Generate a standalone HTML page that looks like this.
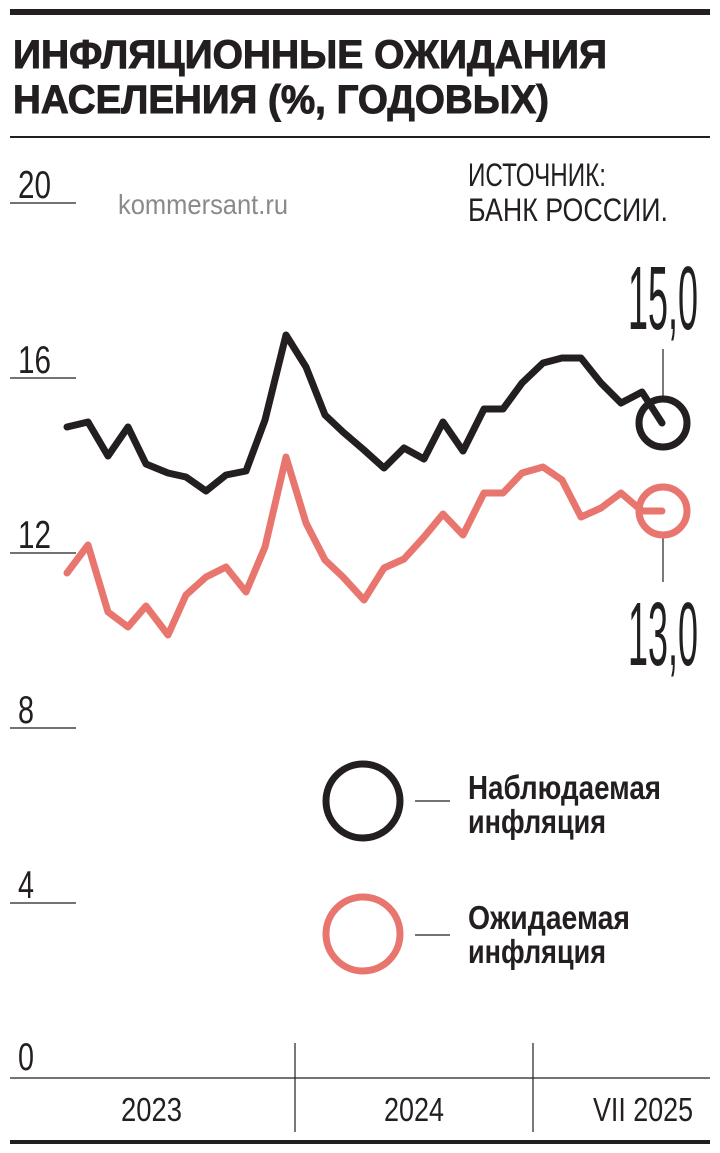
<!DOCTYPE html>
<html><head><meta charset="utf-8"><style>
html,body{margin:0;padding:0;background:#fff;}
svg{display:block;font-family:"Liberation Sans","DejaVu Sans",sans-serif;}
</style></head><body>
<svg width="720" height="1153" viewBox="0 0 720 1153" xmlns="http://www.w3.org/2000/svg">
<rect x="10" y="9" width="700" height="6" fill="#231f20"/>
<g font-size="40" font-weight="bold" fill="#231f20" stroke="#231f20" stroke-width="1">
<text x="13" y="68" textLength="594" lengthAdjust="spacingAndGlyphs">ИНФЛЯЦИОННЫЕ ОЖИДАНИЯ</text>
<text x="13" y="113" textLength="536" lengthAdjust="spacingAndGlyphs">НАСЕЛЕНИЯ (%, ГОДОВЫХ)</text>
</g>
<rect x="10" y="136" width="700" height="2" fill="#231f20"/>
<g stroke="#231f20" stroke-width="1.2">
<line x1="10" y1="203" x2="76" y2="203"/><line x1="10" y1="378" x2="76" y2="378"/>
<line x1="10" y1="553" x2="76" y2="553"/><line x1="10" y1="728" x2="76" y2="728"/>
<line x1="10" y1="903" x2="76" y2="903"/><line x1="10" y1="1078" x2="710" y2="1078"/>
<line x1="295" y1="1043" x2="295" y2="1132"/><line x1="533" y1="1043" x2="533" y2="1132"/>
<line x1="663" y1="349" x2="663" y2="398"/><line x1="663" y1="533" x2="663" y2="582"/>
<line x1="415" y1="801" x2="450" y2="801"/><line x1="415" y1="935" x2="450" y2="935"/>
</g>
<rect x="10" y="1140" width="700" height="4" fill="#231f20"/>
<g font-size="39" fill="#231f20">
<text x="18" y="198" textLength="33" lengthAdjust="spacingAndGlyphs">20</text>
<text x="18" y="373" textLength="33" lengthAdjust="spacingAndGlyphs">16</text>
<text x="18" y="548" textLength="33" lengthAdjust="spacingAndGlyphs">12</text>
<text x="18" y="723" textLength="16" lengthAdjust="spacingAndGlyphs">8</text>
<text x="18" y="898" textLength="16" lengthAdjust="spacingAndGlyphs">4</text>
<text x="18" y="1070" textLength="16" lengthAdjust="spacingAndGlyphs">0</text>
</g>
<text x="118" y="214" font-size="28" fill="#8a8a8a" textLength="170" lengthAdjust="spacingAndGlyphs">kommersant.ru</text>
<text x="468" y="186" font-size="32" fill="#231f20" textLength="138" lengthAdjust="spacingAndGlyphs">ИСТОЧНИК:</text>
<text x="468" y="221" font-size="32" fill="#231f20" textLength="200" lengthAdjust="spacingAndGlyphs">БАНК РОССИИ.</text>
<text x="628" y="329" font-size="90" fill="#231f20" textLength="70" lengthAdjust="spacingAndGlyphs">15,0</text>
<text x="628" y="665" font-size="90" fill="#231f20" textLength="70" lengthAdjust="spacingAndGlyphs">13,0</text>
<polyline fill="none" stroke="#231f20" stroke-width="7" stroke-linejoin="round" stroke-linecap="round" points="67,427 88,422 108,456 128,427 146,464 168,473 186,477 206,491 226,475 246,471 265,420 286,335 306,367 325,415 343,432 364,450 384,468 404,448 424,459 443,422 463,451 484,409 503,409 522,383 543,363 562,358 581,358 601,383 621,403 642,392 662,423"/>
<polyline fill="none" stroke="#e8766f" stroke-width="7" stroke-linejoin="round" stroke-linecap="round" points="67,573 88,545 108,612 128,627 146,606 168,635 186,595 206,577 226,567 246,592 265,547 286,457 306,523 325,560 343,577 364,600 384,568 404,559 424,537 443,514 463,535 484,493 503,493 522,473 543,467 562,480 581,517 601,508 621,493 642,511 662,511"/>
<circle cx="663" cy="423" r="24" fill="none" stroke="#231f20" stroke-width="7"/>
<circle cx="663" cy="511" r="24" fill="none" stroke="#e8766f" stroke-width="7"/>
<circle cx="363" cy="801" r="37" fill="none" stroke="#231f20" stroke-width="7"/>
<circle cx="363" cy="934" r="37" fill="none" stroke="#e8766f" stroke-width="7"/>
<g font-size="33" font-weight="bold" fill="#231f20">
<text x="468" y="799" textLength="193" lengthAdjust="spacingAndGlyphs">Наблюдаемая</text>
<text x="468" y="833" textLength="138" lengthAdjust="spacingAndGlyphs">инфляция</text>
<text x="468" y="929" textLength="162" lengthAdjust="spacingAndGlyphs">Ожидаемая</text>
<text x="468" y="963" textLength="138" lengthAdjust="spacingAndGlyphs">инфляция</text>
</g>
<g font-size="33" fill="#231f20">
<text x="121" y="1121" textLength="61" lengthAdjust="spacingAndGlyphs">2023</text>
<text x="384" y="1121" textLength="60" lengthAdjust="spacingAndGlyphs">2024</text>
<text x="593" y="1121" textLength="100" lengthAdjust="spacingAndGlyphs">VII 2025</text>
</g>
</svg>
</body></html>
